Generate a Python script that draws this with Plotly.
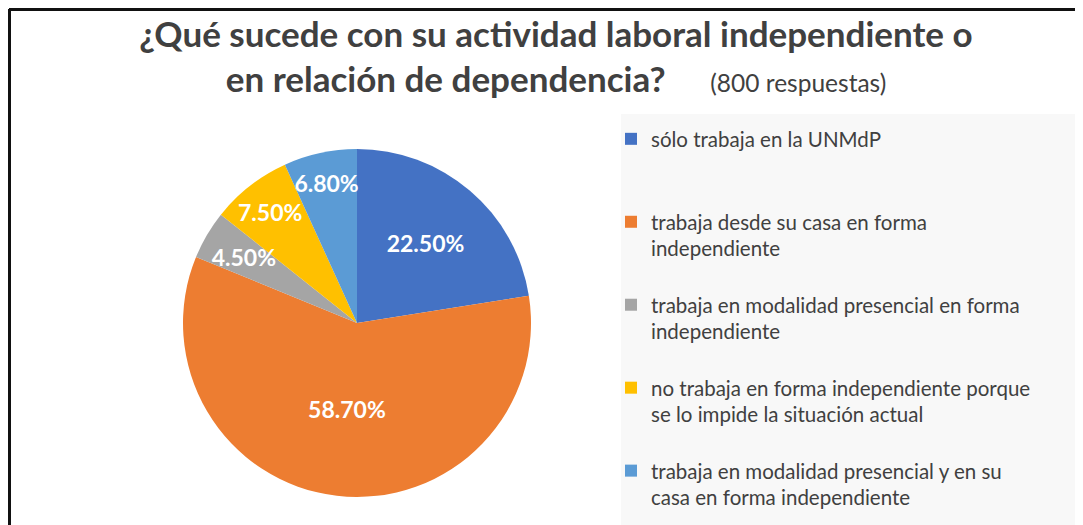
import plotly.graph_objects as go

labels = [
    "sólo trabaja en la UNMdP",
    "trabaja desde su casa en forma independiente",
    "trabaja en modalidad presencial en forma independiente",
    "no trabaja en forma independiente porque se lo impide la situación actual",
    "trabaja en modalidad presencial y en su casa en forma independiente",
]
legend_labels = [
    "sólo trabaja en la UNMdP<br> <br> ",
    "trabaja desde su casa en forma<br>independiente<br> ",
    "trabaja en modalidad presencial en forma<br>independiente<br> ",
    "no trabaja en forma independiente porque<br>se lo impide la situación actual<br> ",
    "trabaja en modalidad presencial y en su<br>casa en forma independiente",
]
values = [22.5, 58.7, 4.5, 7.5, 6.8]
colors = ["#4472C4", "#ED7D31", "#A5A5A5", "#FFC000", "#5B9BD5"]
# which label layer each slice's percentage is drawn on
label_layer = ["main", "main", "inner", "outer", "outer"]

# page is offset by the 8px body margin; work in figure pixels
OFF = 8
W, H = 1083 - OFF, 525 - OFF


def px(x):
    return (x - OFF) / W


def py(y):
    return 1 - (y - OFF) / H


CX, CY, R = 357, 323, 174


def domain(r):
    return dict(x=[px(CX - r), px(CX + r)], y=[py(CY + r), py(CY - r)])


LAB_SIZE = 23
lab_font = dict(family="Lato", size=LAB_SIZE, color="white", weight="bold")
common = dict(values=values, labels=legend_labels, sort=False, direction="clockwise", rotation=0,
              textposition="inside", insidetextorientation="horizontal", textfont=lab_font)

fig = go.Figure()
fig.add_trace(go.Pie(
    marker=dict(colors=colors, line=dict(width=0)),
    texttemplate=["%{value:.2f}%" if l == "main" else "" for l in label_layer],
    domain=domain(R),
    hoverinfo="label+percent",
    **common,
))
# transparent rings carrying the labels of the narrow slices
for layer, r, hole in [("outer", R, 0.5), ("inner", R * 0.86, 0.4)]:
    fig.add_trace(go.Pie(
        hole=hole,
        marker=dict(colors=["rgba(0,0,0,0)"] * len(values), line=dict(width=0)),
        texttemplate=["%{value:.2f}%" if l == layer else "" for l in label_layer],
        domain=domain(r),
        showlegend=False,
        hoverinfo="skip",
        **common,
    ))

fig.update_layout(
    width=W, height=H,
    margin=dict(l=0, r=0, t=0, b=0, autoexpand=False),
    paper_bgcolor="white",
    plot_bgcolor="white",
    uniformtext=dict(minsize=LAB_SIZE, mode="show"),
    title=dict(
        text="<b>¿Qué sucede con su actividad laboral independiente o<br>en relación de dependencia?</b>"
             "&nbsp;&nbsp;&nbsp;&nbsp;&nbsp;<span style='font-size:24.5px'>(800 respuestas)</span>",
        x=px(556), xanchor="center",
        y=py(46.5), yanchor="top",
        font=dict(family="Lato", size=35, color="#404040"),
    ),
    legend=dict(
        x=px(611), xanchor="left",
        y=py(119), yanchor="top",
        bgcolor="rgba(0,0,0,0)",
        font=dict(family="Lato", size=20.5, color="#404040"),
        valign="top",
        itemwidth=30,
    ),
    shapes=[
        dict(type="rect", xref="paper", yref="paper", x0=px(621), x1=px(1077),
             y0=0, y1=py(114), fillcolor="#F8F8F8", line=dict(width=0), layer="below"),
        dict(type="line", xref="paper", yref="paper", x0=px(9), x1=1, y0=py(9.5), y1=py(9.5),
             line=dict(color="#111111", width=3)),
        dict(type="line", xref="paper", yref="paper", x0=px(9.5), x1=px(9.5), y0=0, y1=py(9),
             line=dict(color="#111111", width=3)),
    ],
)

fig.write_html("out.html")
